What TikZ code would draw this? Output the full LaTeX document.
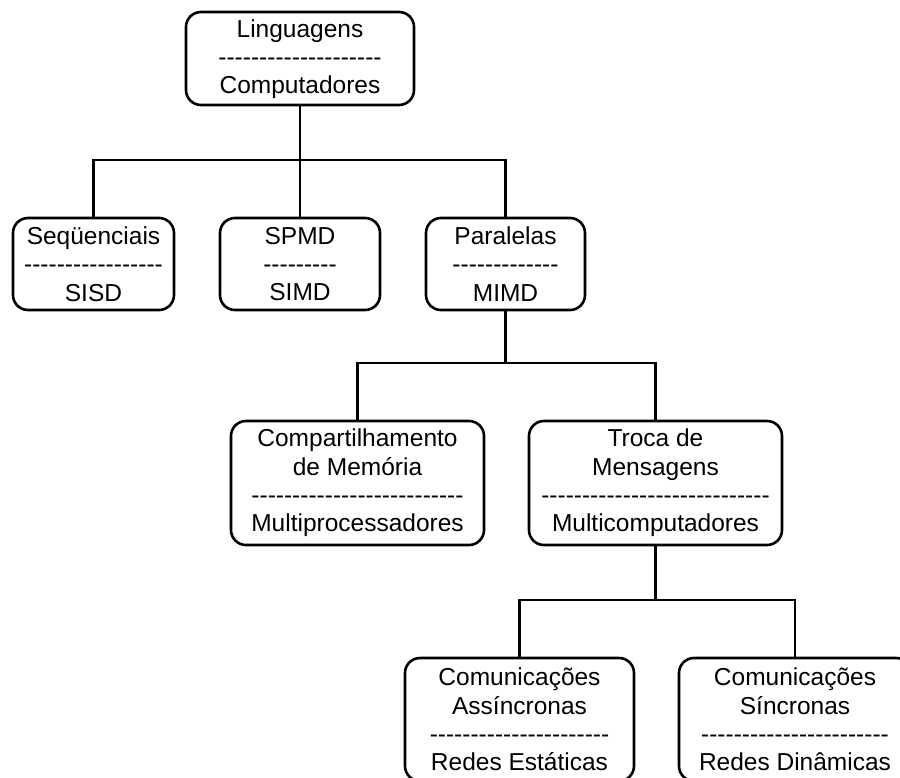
\documentclass[tikz,border=0pt]{standalone}
\usepackage{fontspec}
\setmainfont{Liberation Sans}
% a row of separate hyphens (boxed so no dash ligatures form)
\newcount\hyc
\newcommand\hyrow[1]{\hyc=0 \loop\ifnum\hyc<#1\relax\advance\hyc by 1 \mbox{-}\repeat}
\begin{document}
\begin{tikzpicture}[x=1pt,y=-1pt,
  box/.style={draw, rounded corners=15pt, line width=2.6pt, align=center,
    inner sep=0pt, outer sep=0pt, font=\fontsize{24.5}{28.3}\selectfont},
  link/.style={line width=2.3pt}]
\useasboundingbox (0,0) rectangle (900,777);
\clip (0,0) rectangle (900,777);
\fill[white] (0,0) rectangle (900,777);

% level 1
\node[box, minimum width=228pt, minimum height=93pt, text depth=4pt] (lang) at (300,58.5)
  {Linguagens\\\hyrow{20}\\Computadores};

% level 2
\node[box, minimum width=161pt, minimum height=92pt] (seq) at (93.5,264)
  {Seqüenciais\\\hyrow{17}\\SISD};
\node[box, minimum width=160pt, minimum height=92pt] (spmd) at (300,264)
  {SPMD\\\hyrow{9}\\SIMD};
\node[box, minimum width=159pt, minimum height=92pt] (par) at (505.5,264)
  {Paralelas\\\hyrow{13}\\MIMD};

% level 3
\node[box, minimum width=253pt, minimum height=124pt] (comp) at (357.5,483)
  {Compartilhamento\\de Memória\\\hyrow{26}\\Multiprocessadores};
\node[box, minimum width=253pt, minimum height=124pt] (troca) at (655.5,483)
  {Troca de\\Mensagens\\\hyrow{28}\\Multicomputadores};

% level 4
\node[box, minimum width=229pt, minimum height=123pt] (async) at (519.5,719.5)
  {Comunicações\\Assíncronas\\\hyrow{22}\\Redes Estáticas};
\node[box, minimum width=232pt, minimum height=123pt] (sync) at (795,719.5)
  {Comunicações\\Síncronas\\\hyrow{23}\\Redes Dinâmicas};

% tree connectors
\coordinate (b1) at (lang.south |- 0,160);
\draw[link] (lang.south) -- (b1);
\draw[link] (seq.north) |- (b1) -| (par.north);
\draw[link] (b1) -- (spmd.north);

\coordinate (b2) at (par.south |- 0,363);
\draw[link] (par.south) -- (b2);
\draw[link] (comp.north) |- (b2) -| (troca.north);

\coordinate (b3) at (troca.south |- 0,600);
\draw[link] (troca.south) -- (b3);
\draw[link] (async.north) |- (b3) -| (sync.north);
\end{tikzpicture}
\end{document}
